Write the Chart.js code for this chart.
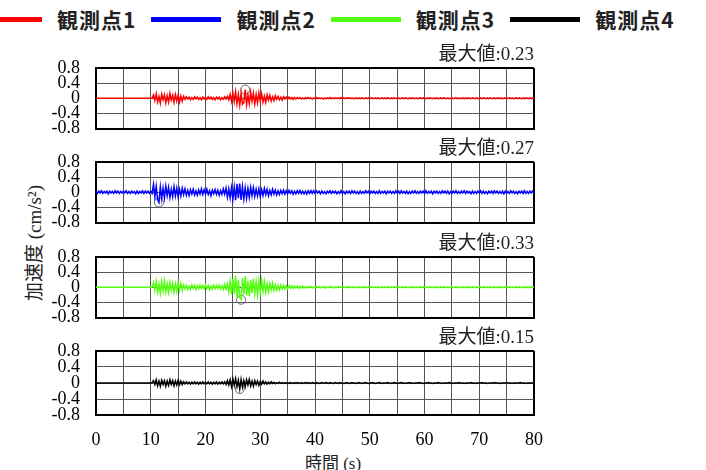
<!DOCTYPE html>
<html>
<head>
<meta charset="utf-8">
<script src="https://cdn.jsdelivr.net/npm/chart.js@4/dist/chart.umd.min.js"></script>
<style>
  html, body { margin: 0; padding: 0; background: #fff; }
  #wrap { position: relative; width: 706px; height: 470px; overflow: hidden; }
  .panel { position: absolute; left: 0; }
  #legend { position: absolute; top: 4px; left: -28px; display: flex; align-items: center; white-space: nowrap;
    font-family: "Noto Sans CJK JP", "Noto Sans", sans-serif; font-weight: bold; font-size: 21px; color: #222; }
  #legend .swatch { display: inline-block; width: 70px; height: 5px; margin-right: 15px; }
  #legend .name { margin-right: 15px; letter-spacing: 1px; }
  .axis-title { position: absolute; font-family: "Liberation Serif", "Noto Sans CJK JP", serif; color: #222; white-space: nowrap; }
  #ytitle { left: 32px; top: 243px; font-size: 19px; transform: translate(-50%, -50%) rotate(-90deg); }
  #xtitle { left: 333px; top: 461px; font-size: 17px; transform: translate(-50%, -50%); }
</style>
</head>
<body>
<div id="wrap">
  <div id="legend"></div>
  <div class="axis-title" id="ytitle">加速度 (cm/s²)</div>
  <div class="axis-title" id="xtitle">時間 (s)</div>
</div>
<script>
// sampling step of the records (s)
const timeStep = 0.25;

const seriesNames = ['観測点1', '観測点2', '観測点3', '観測点4'];
const seriesColors = ['#ff0000', '#0000ff', '#55ff11', '#000000'];

// acceleration, in 0.01 cm/s^2
const wave1 = [
  0,0,0,0,0,0,0,0,0,0,0,0,0,0,0,0,0,0,0,0,
  0,0,0,0,0,0,0,0,0,0,0,0,0,0,0,0,0,0,0,0,
  0,0,9,-6,12,-10,5,-13,11,-4,9,-12,7,-10,13,-5,8,-11,10,-7,
  9,-10,6,-8,5,-3,4,-2,3,-4,2,-3,4,-2,3,-3,2,-4,3,-2,
  2,-3,4,-2,3,-3,2,-4,3,-2,3,-4,2,-3,4,-2,5,-4,10,-8,
  14,-9,17,-15,10,-18,13,-16,-12,23,-17,9,-14,16,-8,13,-15,10,-12,14,
  -8,12,-10,6,-11,9,-5,8,-7,4,-6,7,-3,5,-4,3,-5,4,-2,3,
  -2,3,-2,2,-3,2,-2,2,-1,2,-2,1,-2,2,-1,2,-1,1,-2,1,
  -1,2,-1,1,-1,1,-2,1,-1,1,-1,2,-1,1,-1,1,-1,1,-1,2,
  -1,1,-1,1,0,1,-1,1,-1,0,1,-1,1,-1,1,0,-1,1,-1,1,
  -1,1,0,-1,1,-1,1,-1,0,1,-1,1,-1,1,0,-1,1,-1,1,0,
  -1,1,-1,0,1,-1,1,0,-1,1,-1,1,0,-1,1,-1,0,1,-1,1,
  0,-1,1,-1,1,0,-1,1,-1,1,-1,0,1,-1,1,0,-1,1,-1,0,
  1,-1,0,1,-1,1,-1,0,1,-1,1,-1,1,0,-1,1,0,-1,1,-1,
  0,1,-1,1,0,-1,1,-1,1,0,-1,1,-1,0,1,-1,1,-1,0,1,
  -1,0,1,-1,1,-1,0,1,-1,1,0,-1,1,-1,1,0,-1,1,-1,1,
  0
];
const wave2 = [
  2,-3,3,-2,4,-3,2,-2,3,-4,3,-2,2,-3,4,-2,3,-3,2,-2,
  3,-2,4,-3,2,-3,3,-2,2,-4,3,-3,2,-2,4,-3,3,-2,3,-3,
  3,-3,21,-12,16,-19,-27,14,-17,11,-15,16,-9,13,-14,8,-12,15,-10,11,
  -12,8,-10,11,-6,9,-8,5,-9,7,-5,8,-7,4,-8,6,-5,9,-6,7,
  -5,8,-6,4,-9,6,-4,7,-6,5,-8,4,-6,9,-5,11,-13,9,-15,12,
  -19,14,-21,22,-16,23,-20,15,-18,12,-16,10,-14,13,-9,12,-11,8,-10,9,
  -11,7,-9,10,-6,8,-9,5,-7,8,-5,6,-7,4,-6,5,-4,6,-5,4,
  -4,5,-3,4,-5,3,-4,4,-3,5,-4,3,-4,3,-5,4,-3,4,-3,4,
  -3,4,-2,3,-4,3,-3,2,-4,3,-2,4,-3,3,-2,3,-4,2,-3,4,
  -3,2,-4,3,-2,3,-3,4,-2,3,-3,2,-4,3,-3,2,-3,4,-2,3,
  -4,3,-2,3,-3,2,-3,4,-3,2,-2,3,-4,3,-2,3,-3,2,-3,4,
  -2,3,-3,4,-2,2,-3,3,-4,2,-3,3,-2,4,-3,2,-3,3,-2,3,
  -3,4,-3,2,-2,3,-4,3,-2,3,-3,2,-3,4,-2,3,-3,3,-4,2,
  -3,3,-2,4,-3,2,-3,3,-2,4,-3,3,-2,2,-4,3,-3,2,-3,3,
  -2,4,-3,3,-3,2,-4,3,-2,3,-3,4,-2,3,-3,2,-3,3,-4,3,
  -3,2,-3,4,-2,3,-3,2,-4,3,-2,3,-3,4,-3,2,-3,3,-2,3,
  -2
];
const wave3 = [
  0,0,0,0,0,0,0,0,0,0,0,0,0,0,0,0,0,0,0,0,
  0,0,0,0,0,0,0,0,0,0,0,0,0,0,0,0,0,0,0,0,
  0,1,12,-8,15,-13,9,-16,14,-10,17,-12,9,-14,13,-8,11,-13,9,-11,
  12,-7,10,-8,6,-4,5,-6,3,-5,6,-3,5,-6,4,-5,6,-3,5,-4,
  6,-4,5,-6,3,-5,6,-4,5,-3,6,-5,4,-6,8,-5,9,-12,16,-19,
  22,-17,30,-26,20,-28,-33,24,-19,29,-22,17,-24,20,-15,23,-18,14,-20,17,
  -13,18,-11,15,-14,9,-12,10,-7,11,-8,6,-8,5,-7,6,-4,5,-5,4,
  -4,4,-3,4,-3,3,-2,3,-3,2,-2,3,-2,2,-2,2,-1,2,-2,1,
  -2,2,-1,2,-2,1,-1,2,-2,1,-1,2,-1,1,-2,1,-1,2,-1,1,
  -1,1,-1,1,0,1,-1,1,-1,1,-1,0,1,-1,1,-1,1,0,-1,1,
  -1,1,0,-1,1,-1,1,-1,0,1,-1,1,-1,1,0,-1,1,-1,1,0,
  -1,1,-1,0,1,-1,1,0,-1,1,-1,1,0,-1,1,-1,0,1,-1,1,
  0,-1,1,-1,1,0,-1,1,-1,1,-1,0,1,-1,1,0,-1,1,-1,0,
  1,-1,0,1,-1,1,-1,0,1,-1,1,-1,1,0,-1,1,0,-1,1,-1,
  0,1,-1,1,0,-1,1,-1,1,0,-1,1,-1,0,1,-1,1,-1,0,1,
  -1,0,1,-1,1,-1,0,1,-1,1,0,-1,1,-1,1,0,-1,1,-1,1,
  0
];
const wave4 = [
  0,0,0,0,0,0,0,0,0,0,0,0,0,0,0,0,0,0,0,0,
  0,0,0,0,0,0,0,0,0,0,0,0,0,0,0,0,0,0,0,0,
  0,1,6,-4,8,-7,5,-8,7,-4,6,-8,5,-6,8,-4,6,-7,5,-5,
  7,-4,5,-4,3,-2,3,-2,2,-3,2,-2,3,-2,2,-3,2,-2,3,-2,
  2,-2,3,-2,2,-3,2,-2,3,-3,2,-2,3,-2,3,-4,6,-5,8,-9,
  10,-6,11,-9,7,-15,9,-10,6,-9,8,-5,9,-7,5,-8,6,-4,5,-6,
  4,-3,5,-2,3,-3,2,-2,3,-1,2,-2,1,-1,2,-1,1,-1,1,-1,
  1,-1,1,0,-1,1,-1,1,0,-1,1,-1,0,1,-1,1,0,-1,1,0,
  -1,1,0,-1,0,1,-1,0,1,0,-1,1,0,-1,0,1,0,-1,1,0,
  0,-1,0,1,0,-1,0,1,0,0,-1,0,1,0,-1,0,0,1,0,-1,
  0,0,1,0,-1,0,0,1,0,-1,0,0,0,1,0,-1,0,0,1,0,
  -1,0,0,1,0,0,-1,0,0,1,0,0,-1,0,0,0,1,0,0,-1,
  0,0,0,1,0,0,-1,0,0,0,1,0,0,-1,0,0,0,0,1,0,
  0,-1,0,0,0,1,0,0,0,-1,0,0,0,0,1,0,0,-1,0,0,
  0,0,1,0,0,0,-1,0,0,0,0,1,0,0,0,-1,0,0,0,0,
  1,0,0,0,-1,0,0,0,0,0,1,0,0,0,-1,0,0,0,0,0,
  0
];
const waves = [wave1, wave2, wave3, wave4];

// peak of each record (s, cm/s^2), marked with a circle
const peakTimes = [27.25, 11.5, 26.5, 26.25];
const peakValues = [0.23, -0.27, -0.33, -0.15];

const xTickLabels = [0, 10, 20, 30, 40, 50, 60, 70, 80];
const yTickLabels = [-0.8, -0.4, 0, 0.4, 0.8];

// legend
const legendNode = document.getElementById('legend');
seriesNames.forEach((name, i) => {
  const sw = document.createElement('span');
  sw.className = 'swatch';
  sw.style.background = seriesColors[i];
  const tx = document.createElement('span');
  tx.className = 'name';
  tx.textContent = name;
  legendNode.appendChild(sw);
  legendNode.appendChild(tx);
});

const panelTops = [68, 162, 257, 351];
const areaHeight = 64;
const titleHeight = 26;
const wrap = document.getElementById('wrap');
const serif = '"Liberation Serif", "Noto Sans CJK JP", serif';

const edgeWidth = (min, max) => (ctx) => {
  const v = ctx.tick ? ctx.tick.value : null;
  return v === min || v === max ? 2 : 1;
};
const edgeColor = (min, max) => (ctx) => {
  const v = ctx.tick ? ctx.tick.value : null;
  return v === min || v === max ? '#000' : '#555';
};

waves.forEach((wave, k) => {
  const isLast = k === waves.length - 1;
  const axisHeight = isLast ? 50 : 2;
  const canvas = document.createElement('canvas');
  canvas.className = 'panel';
  canvas.width = 560;
  canvas.height = titleHeight + areaHeight + axisHeight;
  canvas.style.top = (panelTops[k] - titleHeight) + 'px';
  wrap.appendChild(canvas);

  const points = wave.map((v, i) => ({ x: i * timeStep, y: v / 100 }));

  new Chart(canvas, {
    type: 'line',
    data: {
      datasets: [
        {
          label: seriesNames[k],
          data: points,
          borderColor: seriesColors[k],
          borderWidth: 1.5,
          pointRadius: 0,
          tension: 0,
        },
        {
          label: 'peak',
          data: [{ x: peakTimes[k], y: peakValues[k] }],
          showLine: false,
          pointRadius: 4.5,
          pointBorderWidth: 1,
          pointBorderColor: '#666',
          pointBackgroundColor: 'rgba(0,0,0,0)',
        },
      ],
    },
    options: {
      responsive: false,
      animation: false,
      events: [],
      layout: { padding: { left: 0, right: 26, top: 0, bottom: 0 } },
      plugins: {
        legend: { display: false },
        tooltip: { enabled: false },
        title: {
          display: true,
          text: '最大値:' + Math.abs(peakValues[k]).toFixed(2),
          align: 'end',
          color: '#222',
          font: { family: serif, size: 19, weight: 'normal', lineHeight: '20px' },
          padding: { top: 3, bottom: 3 },
        },
      },
      scales: {
        x: {
          type: 'linear',
          min: 0,
          max: 80,
          afterFit: (scale) => {
            scale.height = axisHeight;
            scale.paddingLeft = 0;
            scale.paddingRight = 0;
          },
          grid: { drawTicks: false, color: edgeColor(0, 80), lineWidth: edgeWidth(0, 80) },
          border: { display: true, color: '#000', width: 2 },
          ticks: {
            display: isLast,
            stepSize: 5,
            autoSkip: false,
            maxRotation: 0,
            padding: 14,
            color: '#000',
            font: { family: serif, size: 18 },
            callback: (v) => (xTickLabels.includes(v) ? String(v) : ''),
          },
        },
        y: {
          min: -0.8,
          max: 0.8,
          afterFit: (scale) => {
            scale.width = 96;
            scale.paddingTop = 0;
            scale.paddingBottom = 0;
          },
          grid: { drawTicks: false, color: edgeColor(-0.8, 0.8), lineWidth: edgeWidth(-0.8, 0.8) },
          border: { display: true, color: '#000', width: 2 },
          ticks: {
            stepSize: 0.4,
            autoSkip: false,
            padding: 16,
            color: '#000',
            font: { family: serif, size: 18, lineHeight: 1 },
            callback: (v) => {
              const r = Math.round(v * 10) / 10;
              const hit = yTickLabels.find((t) => Math.abs(t - r) < 1e-9);
              return hit === undefined ? '' : String(hit === 0 ? 0 : hit);
            },
          },
        },
      },
    },
  });
});
</script>
</body>
</html>
